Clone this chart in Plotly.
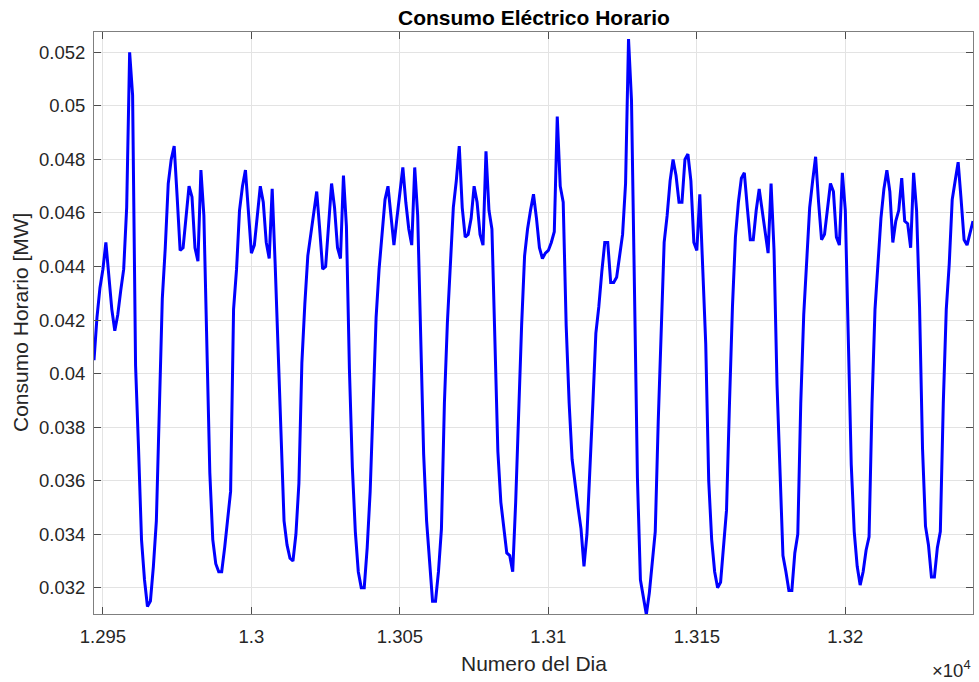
import plotly.graph_objects as go

# Hourly consumption (MW), hours 12947 .. 13243
start_hour = 12947
consumo = [
    0.0405, 0.0421, 0.0432, 0.0439, 0.0449, 0.0435, 0.0424, 0.0416, 0.0422, 0.0431,  # 12947-12956
    0.0439, 0.0462, 0.0520, 0.0504, 0.0403, 0.0372, 0.0338, 0.0323, 0.0313, 0.0315,  # 12957-12966
    0.0328, 0.0345, 0.0382, 0.0428, 0.0447, 0.0471, 0.0480, 0.0485, 0.0466, 0.0446,  # 12967-12976
    0.0447, 0.0460, 0.0470, 0.0466, 0.0447, 0.0442, 0.0476, 0.0459, 0.0409, 0.0363,  # 12977-12986
    0.0338, 0.0329, 0.0326, 0.0326, 0.0335, 0.0345, 0.0356, 0.0424, 0.0439, 0.0461,  # 12987-12996
    0.0470, 0.0476, 0.0462, 0.0445, 0.0448, 0.0459, 0.0470, 0.0464, 0.0449, 0.0443,  # 12997-13006
    0.0469, 0.0441, 0.0411, 0.0375, 0.0345, 0.0336, 0.0331, 0.0330, 0.0340, 0.0359,  # 13007-13016
    0.0404, 0.0426, 0.0444, 0.0452, 0.0460, 0.0468, 0.0454, 0.0439, 0.0440, 0.0455,  # 13017-13026
    0.0471, 0.0462, 0.0447, 0.0443, 0.0474, 0.0455, 0.0402, 0.0365, 0.0341, 0.0326,  # 13027-13036
    0.0320, 0.0320, 0.0335, 0.0356, 0.0390, 0.0421, 0.0439, 0.0452, 0.0465, 0.0470,  # 13037-13046
    0.0459, 0.0448, 0.0458, 0.0468, 0.0477, 0.0464, 0.0454, 0.0448, 0.0477, 0.0459,  # 13047-13056
    0.0410, 0.0370, 0.0345, 0.0330, 0.0315, 0.0315, 0.0326, 0.0342, 0.0389, 0.0419,  # 13057-13066
    0.0439, 0.0462, 0.0472, 0.0485, 0.0462, 0.0451, 0.0452, 0.0458, 0.0470, 0.0464,  # 13067-13076
    0.0452, 0.0448, 0.0483, 0.0461, 0.0454, 0.0411, 0.0371, 0.0352, 0.0342, 0.0333,  # 13077-13086
    0.0332, 0.0326, 0.0352, 0.0388, 0.0418, 0.0444, 0.0454, 0.0461, 0.0467, 0.0458,  # 13087-13096
    0.0447, 0.0443, 0.0445, 0.0446, 0.0449, 0.0453, 0.0496, 0.0470, 0.0464, 0.0418,  # 13097-13106
    0.0389, 0.0368, 0.0358, 0.0350, 0.0342, 0.0328, 0.0340, 0.0363, 0.0389, 0.0415,  # 13107-13116
    0.0425, 0.0438, 0.0449, 0.0449, 0.0434, 0.0434, 0.0436, 0.0444, 0.0452, 0.0471,  # 13117-13126
    0.0525, 0.0502, 0.0425, 0.0361, 0.0323, 0.0316, 0.0310, 0.0318, 0.0330, 0.0341,  # 13127-13136
    0.0382, 0.0415, 0.0449, 0.0459, 0.0472, 0.0480, 0.0474, 0.0464, 0.0464, 0.0480,  # 13137-13146
    0.0482, 0.0472, 0.0449, 0.0446, 0.0467, 0.0439, 0.0411, 0.0360, 0.0338, 0.0326,  # 13147-13156
    0.0320, 0.0322, 0.0335, 0.0349, 0.0389, 0.0425, 0.0451, 0.0464, 0.0473, 0.0475,  # 13157-13166
    0.0462, 0.0450, 0.0450, 0.0461, 0.0469, 0.0461, 0.0452, 0.0445, 0.0471, 0.0446,  # 13167-13176
    0.0396, 0.0363, 0.0332, 0.0326, 0.0319, 0.0319, 0.0333, 0.0340, 0.0389, 0.0422,  # 13177-13186
    0.0444, 0.0462, 0.0472, 0.0481, 0.0464, 0.0450, 0.0452, 0.0461, 0.0471, 0.0468,  # 13187-13196
    0.0451, 0.0448, 0.0475, 0.0461, 0.0415, 0.0366, 0.0341, 0.0328, 0.0321, 0.0326,  # 13197-13206
    0.0334, 0.0339, 0.0389, 0.0424, 0.0441, 0.0458, 0.0469, 0.0476, 0.0468, 0.0449,  # 13207-13216
    0.0457, 0.0461, 0.0473, 0.0457, 0.0456, 0.0447, 0.0475, 0.0461, 0.0425, 0.0372,  # 13217-13226
    0.0343, 0.0336, 0.0324, 0.0324, 0.0335, 0.0341, 0.0389, 0.0424, 0.0441, 0.0465,  # 13227-13236
    0.0472, 0.0479, 0.0465, 0.0450, 0.0448, 0.0452, 0.0457,                          # 13237-13243
]
horas = list(range(start_hour, start_hour + len(consumo)))

x_tick_vals = [12950, 13000, 13050, 13100, 13150, 13200]
x_tick_text = ["1.295", "1.3", "1.305", "1.31", "1.315", "1.32"]
y_tick_vals = [0.032, 0.034, 0.036, 0.038, 0.040, 0.042, 0.044, 0.046, 0.048, 0.050, 0.052]
y_tick_text = ["0.032", "0.034", "0.036", "0.038", "0.04", "0.042", "0.044", "0.046", "0.048", "0.05", "0.052"]

FONT = "Liberation Sans, Arial, Helvetica, sans-serif"
TXT = "#262626"
AXC = "#7f7f7f"
GRID = "#e3e3e3"

fig = go.Figure()
fig.add_trace(go.Scatter(
    x=horas, y=consumo, mode="lines",
    line=dict(color="#0000ff", width=3),
    hoverinfo="x+y",
))

axis_common = dict(
    showline=True, linecolor=AXC, linewidth=1, mirror="ticks",
    ticks="inside", ticklen=7, tickcolor="#4d4d4d", tickwidth=1,
    showgrid=True, gridcolor=GRID, gridwidth=1, zeroline=False,
    tickfont=dict(family=FONT, size=18.5, color=TXT),
)

fig.update_layout(
    width=979, height=682,
    margin=dict(l=94, r=6, t=32, b=68),
    paper_bgcolor="white", plot_bgcolor="white",
    showlegend=False,
    font=dict(family=FONT, color=TXT),
    xaxis=dict(range=[start_hour, horas[-1]], tickvals=x_tick_vals, ticktext=x_tick_text,
               ticklabelstandoff=6, **axis_common),
    yaxis=dict(range=[0.03102, 0.05276], tickvals=y_tick_vals, ticktext=y_tick_text,
               ticklabelstandoff=4, **axis_common),
    annotations=[
        dict(text="<b>Consumo Eléctrico Horario</b>", xref="paper", yref="paper",
             x=0.5, y=1, yshift=15, xanchor="center", yanchor="middle",
             showarrow=False, font=dict(family=FONT, size=21, color="black")),
        dict(text="Numero del Dia", xref="paper", yref="paper",
             x=0.5, y=0, yshift=-49, xanchor="center", yanchor="middle",
             showarrow=False, font=dict(family=FONT, size=21, color=TXT)),
        dict(text="Consumo Horario [MW]", xref="paper", yref="paper",
             x=0, y=0.5, xshift=-74, textangle=-90, xanchor="center", yanchor="middle",
             showarrow=False, font=dict(family=FONT, size=21, color=TXT)),
        dict(text="×10<sup>4</sup>", xref="paper", yref="paper",
             x=1, y=0, yshift=-55, xanchor="right", yanchor="middle",
             showarrow=False, font=dict(family=FONT, size=18.5, color=TXT)),
    ],
)

fig.write_html("out.html")
